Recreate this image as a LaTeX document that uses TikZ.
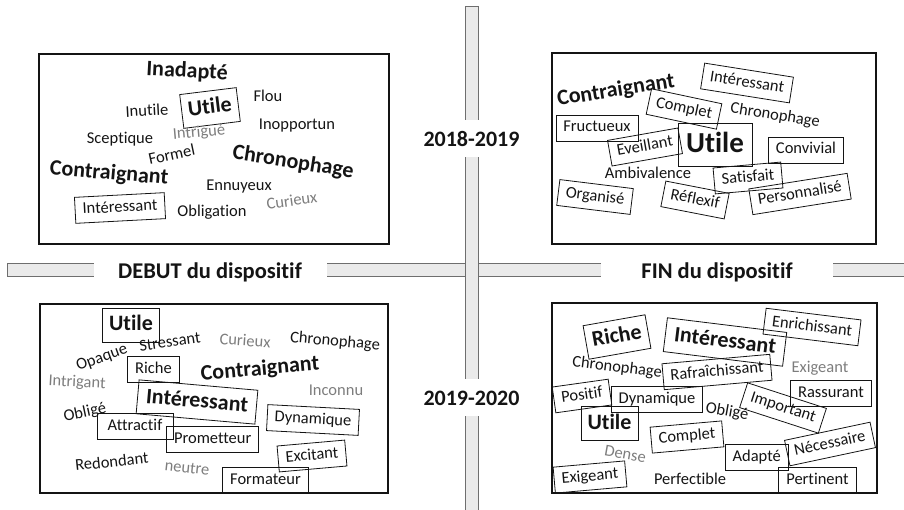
\documentclass[tikz,border=0pt]{standalone}
\usepackage{fontspec}
\setmainfont{Carlito}[Ligatures=NoCommon]
\definecolor{bargray}{RGB}{234,234,234}
\definecolor{barline}{RGB}{110,110,110}
\definecolor{wgray}{RGB}{125,125,125}
\definecolor{ink}{RGB}{20,20,20}
\tikzset{
  wd/.style={font=\fontsize{16.5}{19}\selectfont, text=ink, inner sep=0pt, text height=12pt, text depth=4pt},
  gw/.style={wd, text=wgray},
  bd/.style={font=\bfseries\fontsize{22}{26}\selectfont, text=ink, inner sep=0pt, text height=16pt, text depth=5pt},
  bx/.style={draw=ink, line width=0.8pt, inner xsep=7.5pt, inner ysep=5pt},
  bbx/.style={draw=ink, line width=0.8pt, inner sep=6.5pt},
  frame/.style={draw=ink, line width=1.9pt},
  lab/.style={font=\bfseries\fontsize{22.5}{26}\selectfont, text=ink, fill=white, inner xsep=0pt, inner ysep=2pt, text height=16pt, text depth=5pt, anchor=base},
  yr/.style={font=\bfseries\fontsize{22}{26}\selectfont, text=ink, fill=white, inner xsep=4pt, inner ysep=5.5pt, text height=21pt, text depth=5pt, anchor=base},
  barfill/.style={fill=bargray, draw=none},
  baredge/.style={draw=barline, line width=1pt}
}
\begin{document}
\begin{tikzpicture}[x=1pt,y=-1pt]
\useasboundingbox (0,0) rectangle (904,510);
% horizontal bar
\fill[barfill] (7,264) rectangle (904,277);
\draw[baredge] (904,264) -- (7,264) -- (7,277) -- (904,277);
% vertical bar
\fill[barfill] (465,7) rectangle (478,512);
\draw[baredge] (465,512) -- (465,7) -- (478,7) -- (478,512);
% labels
\node[lab, minimum width=233pt] (debut) at (210,278.3) {DEBUT du dispositif};
\node[lab, minimum width=232pt] (fin) at (717,278.3) {FIN du dispositif};
\node[yr] (y1) at (471.5,146.7) {2018-2019};
\node[yr] (y2) at (471.5,405) {2019-2020};
% frames
\draw[frame] (39,54) rectangle (389,244);
\draw[frame] (552,53) rectangle (876,244);
\draw[frame] (40,304) rectangle (388,493);
\draw[frame] (552,303) rectangle (877,493);
% ---------- top-left
\node[bd, rotate=-3] (tlInadapte) at (187,72) {Inadapté};
\node[bd, bbx, rotate=7] (tlUtile) at (210,108) {Utile};
\node[wd, rotate=3] (tlInutile) at (147,112) {Inutile};
\node[wd] (tlFlou) at (268,98) {Flou};
\node[wd] (tlInopportun) at (297,126) {Inopportun};
\node[wd] (tlSceptique) at (120,140) {Sceptique};
\node[gw, rotate=5] (tlIntrigue) at (199,133) {Intrigué};
\node[wd, rotate=12] (tlFormel) at (172,156) {Formel};
\node[bd, rotate=-5] (tlContraignant) at (109,174) {Contraignant};
\node[bd, rotate=-9] (tlChronophage) at (293,163) {Chronophage};
\node[wd] (tlEnnuyeux) at (239,187) {Ennuyeux};
\node[gw, rotate=8] (tlCurieux) at (292,202) {Curieux};
\node[wd, bx, rotate=3] (tlInteressant) at (120,208) {Intéressant};
\node[wd] (tlObligation) at (212,213) {Obligation};
% ---------- top-right
\node[bd, rotate=9] (trContraignant) at (616,91) {Contraignant};
\node[wd, bx, rotate=-9] (trInteressant) at (747,83) {Intéressant};
\node[wd, bx, rotate=-12] (trComplet) at (684,109) {Complet};
\node[wd, rotate=-9] (trChronophage) at (775,116) {Chronophage};
\node[wd, bx] (trFructueux) at (597,128) {Fructueux};
\node[wd, bx, rotate=10] (trEveillant) at (645,147) {Eveillant};
\node[font=\bfseries\fontsize{29}{34}\selectfont, text=ink, draw=ink, line width=0.8pt, inner xsep=8pt, inner ysep=8pt, text height=21pt, text depth=6pt] (trUtile) at (715,145) {Utile};
\node[wd, bx] (trConvivial) at (806,150) {Convivial};
\node[wd] (trAmbivalence) at (648,175) {Ambivalence};
\node[wd, bx, rotate=5] (trSatisfait) at (748,178) {Satisfait};
\node[wd, bx, rotate=-7] (trOrganise) at (595,197) {Organisé};
\node[wd, bx, rotate=-11] (trReflexif) at (695,200) {Réflexif};
\node[wd, bx, rotate=9] (trPersonnalise) at (800,194) {Personnalisé};
% ---------- bottom-left
\node[bd, bbx] (blUtile) at (131,325) {Utile};
\node[wd, rotate=8] (blStressant) at (170,343) {Stressant};
\node[gw, rotate=-4] (blCurieux) at (245,342) {Curieux};
\node[wd, rotate=-5] (blChronophage) at (335,342) {Chronophage};
\node[wd, rotate=20] (blOpaque) at (102,358) {Opaque};
\node[wd, bx] (blRiche) at (153.5,369) {Riche};
\node[bd, rotate=5] (blContraignant) at (260,370) {Contraignant};
\node[gw, rotate=-3] (blIntrigant) at (77,383) {Intrigant};
\node[gw] (blInconnu) at (336,391) {Inconnu};
\node[bd, bbx, rotate=-5, inner xsep=8.5pt] (blInteressant) at (197,402) {Intéressant};
\node[wd, rotate=12] (blOblige) at (85,413) {Obligé};
\node[wd, bx, rotate=-3] (blDynamique) at (313,420) {Dynamique};
\node[wd, bx, minimum width=76pt] (blAttractif) at (135,426.5) {Attractif};
\node[wd, bx] (blPrometteur) at (212.7,439.2) {Prometteur};
\node[wd, bx, rotate=5] (blExcitant) at (312,456) {Excitant};
\node[wd, rotate=6] (blRedondant) at (112,463) {Redondant};
\node[gw, rotate=-6] (blneutre) at (187,469) {neutre};
\node[wd, bx] (blFormateur) at (265.5,480.4) {Formateur};
% ---------- bottom-right
\node[bd, bbx, rotate=10] (brRiche) at (617,337) {Riche};
\node[bd, bbx, rotate=-7, inner xsep=9pt] (brInteressant) at (725,342) {Intéressant};
\node[wd, bx, rotate=-7] (brEnrichissant) at (812,327) {Enrichissant};
\node[wd, rotate=-7] (brChronophage) at (617,368) {Chronophage};
\node[wd, bx, rotate=5] (brRafraichissant) at (717,372) {Rafraîchissant};
\node[gw] (brExigeant) at (820,368) {Exigeant};
\node[wd, bx, rotate=8] (brPositif) at (582,396) {Positif};
\node[wd, bx] (brDynamique) at (657,399.5) {Dynamique};
\node[wd, bx] (brRassurant) at (831,393.5) {Rassurant};
\node[wd, bx, rotate=-18] (brImportant) at (783,408) {Important};
\node[wd, rotate=-10] (brOblige) at (727,412) {Obligé};
\node[bd, bbx] (brUtile) at (609.5,423.5) {Utile};
\node[wd, bx, rotate=5] (brComplet) at (687,437) {Complet};
\node[wd, bx, rotate=12] (brNecessaire) at (830,444) {Nécessaire};
\node[wd, bx] (brAdapte) at (756.7,457) {Adapté};
\node[gw, rotate=-10] (brDense) at (625,455) {Dense};
\node[wd, bx, rotate=5] (brExigeantBox) at (590,477) {Exigeant};
\node[wd] (brPerfectible) at (690,480) {Perfectible};
\node[wd, bx] (brPertinent) at (817.5,480) {Pertinent};
\end{tikzpicture}
\end{document}
